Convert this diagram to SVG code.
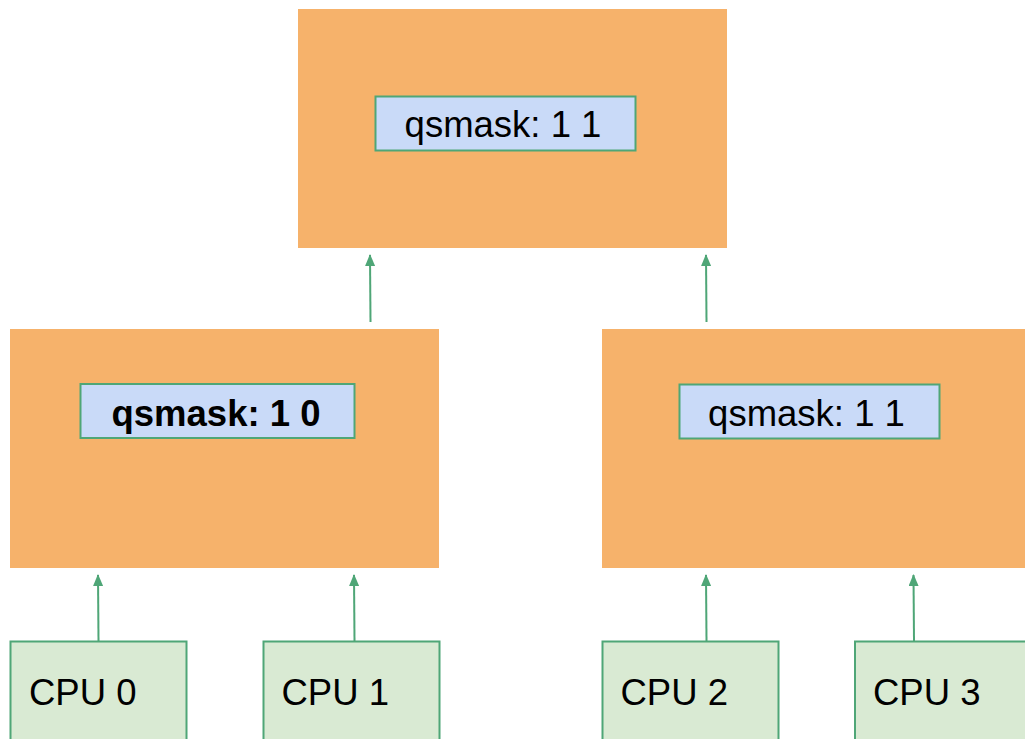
<svg xmlns="http://www.w3.org/2000/svg" width="1025" height="739" viewBox="0 0 1025 739">
<style>
.node{fill:#f6b26b;}
.mask{fill:#c9daf8;stroke:#4fa677;stroke-width:2;}
.cpu{fill:#d9ead3;stroke:#4fa677;stroke-width:2;}
.t{font-family:"Liberation Sans",Arial,sans-serif;font-size:36.5px;fill:#000;}
.b{font-weight:bold;}
.conn line{stroke:#4fa677;stroke-width:2;}
</style>
<defs>
<marker id="ah" viewBox="0 0 12 10" refX="11" refY="5" markerWidth="12" markerHeight="10" markerUnits="userSpaceOnUse" orient="auto">
<path d="M0,0 L12,5 L0,10 Z" fill="#4fa677"/>
</marker>
</defs>
<rect width="1025" height="739" fill="#fff"/>
<g id="root">
<rect class="node" x="298" y="9" width="429" height="239"/>
<rect class="mask" x="375.5" y="96.5" width="260" height="54"/>
<text class="t" x="503" y="136.5" text-anchor="middle">qsmask: 1 1</text>
</g>
<g id="left">
<rect class="node" x="10" y="329" width="429" height="239"/>
<rect class="mask" x="80.5" y="384" width="274" height="54"/>
<text class="t b" x="216" y="425.5" text-anchor="middle">qsmask: 1 0</text>
</g>
<g id="right">
<rect class="node" x="602" y="329" width="423" height="239"/>
<rect class="mask" x="679.5" y="384.5" width="260" height="54"/>
<text class="t" x="806.5" y="425.5" text-anchor="middle">qsmask: 1 1</text>
</g>
<g id="cpu0">
<rect class="cpu" x="10.5" y="641.5" width="176" height="110"/>
<text class="t" x="29" y="705">CPU 0</text>
</g>
<g id="cpu1">
<rect class="cpu" x="263.5" y="641.5" width="176" height="110"/>
<text class="t" x="281.5" y="705">CPU 1</text>
</g>
<g id="cpu2">
<rect class="cpu" x="602.5" y="641.5" width="176" height="110"/>
<text class="t" x="620.5" y="705">CPU 2</text>
</g>
<g id="cpu3">
<rect class="cpu" x="855" y="641.5" width="176" height="110"/>
<text class="t" x="873" y="705">CPU 3</text>
</g>
<g class="conn">
<line x1="370.5" y1="322" x2="370" y2="255" marker-end="url(#ah)"/>
<line x1="706.5" y1="322" x2="706" y2="255" marker-end="url(#ah)"/>
<line x1="98.5" y1="641" x2="98" y2="575" marker-end="url(#ah)"/>
<line x1="354.5" y1="641" x2="354" y2="575" marker-end="url(#ah)"/>
<line x1="706.5" y1="641" x2="706" y2="575" marker-end="url(#ah)"/>
<line x1="914" y1="641" x2="913.5" y2="575" marker-end="url(#ah)"/>
</g>
</svg>
